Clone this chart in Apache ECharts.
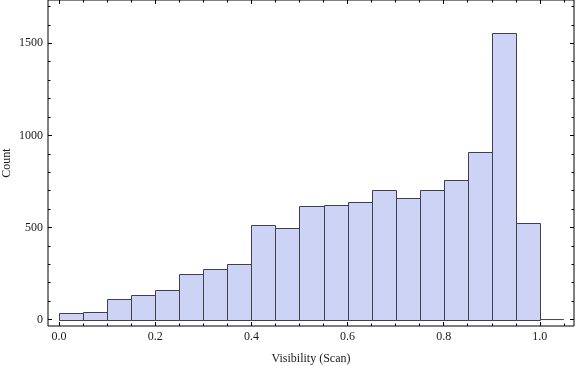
<!DOCTYPE html>
<html>
<head>
<meta charset="utf-8">
<script src="https://cdn.jsdelivr.net/npm/echarts@6/dist/echarts.min.js"></script>
<style>
  html, body { margin: 0; padding: 0; background: #fff; }
  #chart { width: 576px; height: 366px; }
</style>
</head>
<body>
<div id="chart"></div>
<script>
// bin edges of the histogram (width 0.05)
var binStart = [0, 0.05, 0.1, 0.15, 0.2, 0.25, 0.3, 0.35, 0.4, 0.45, 0.5, 0.55, 0.6, 0.65, 0.7, 0.75, 0.8, 0.85, 0.9, 0.95];
var binEnd = [0.05, 0.1, 0.15, 0.2, 0.25, 0.3, 0.35, 0.4, 0.45, 0.5, 0.55, 0.6, 0.65, 0.7, 0.75, 0.8, 0.85, 0.9, 0.95, 1.0];
// counts
var counts = [33, 43, 114, 136, 163, 250, 272, 299, 516, 495, 614, 620, 637, 701, 658, 701, 756, 908, 1554, 522];

// baseline runs a bit past the last bar
var baseline = [0, 1.05];

// tick marks
var xTicks = [0, 0.2, 0.4, 0.6, 0.8, 1.0];
var xMinorTicks = [0.05, 0.1, 0.15, 0.25, 0.3, 0.35, 0.45, 0.5, 0.55, 0.65, 0.7, 0.75, 0.85, 0.9, 0.95, 1.05];
var yTicks = [0, 500, 1000, 1500];
var yMinorTicks = [100, 200, 300, 400, 600, 700, 800, 900, 1100, 1200, 1300, 1400, 1600, 1700];

var xMin = -0.023, xMax = 1.071;
var yMin = -35, yMax = 1735;

var font = "'Liberation Serif', 'DejaVu Serif', serif";
var txt = "#1a1a1a";

var bars = binStart.map(function (s, i) {
  return [s, binEnd[i], counts[i]];
});

function xAxisDef(pos, ticks, len, label) {
  return {
    type: "value",
    position: pos,
    min: xMin,
    max: xMax,
    axisLine: { show: false, onZero: false },
    splitLine: { show: false },
    axisTick: {
      show: true,
      inside: true,
      length: len,
      customValues: ticks,
      lineStyle: { color: "#000", width: 1 },
    },
    axisLabel: label
      ? {
          show: true,
          customValues: ticks,
          margin: 5,
          color: txt,
          fontFamily: font,
          fontSize: 12,
          formatter: function (v) {
            return v.toFixed(1);
          },
        }
      : { show: false },
  };
}

function yAxisDef(pos, ticks, len, label) {
  return {
    type: "value",
    position: pos,
    min: yMin,
    max: yMax,
    axisLine: { show: false, onZero: false },
    splitLine: { show: false },
    axisTick: {
      show: true,
      inside: true,
      length: len,
      customValues: ticks,
      lineStyle: { color: "#000", width: 1 },
    },
    axisLabel: label
      ? {
          show: true,
          customValues: ticks,
          margin: 5,
          color: txt,
          fontFamily: font,
          fontSize: 12,
          formatter: function (v) {
            return String(v); // no thousands separator
          },
        }
      : { show: false },
  };
}

var xMain = xAxisDef("bottom", xTicks, 4, true);
xMain.name = "Visibility (Scan)";
xMain.nameLocation = "middle";
xMain.nameGap = 27;
xMain.nameMoveOverlap = false;
xMain.nameTextStyle = { color: txt, fontFamily: font, fontSize: 12 };

var yMain = yAxisDef("left", yTicks, 4, true);
yMain.name = "Count";
yMain.nameLocation = "middle";
yMain.nameGap = 35;
yMain.nameRotate = 90;
yMain.nameMoveOverlap = false;
yMain.nameTextStyle = { color: txt, fontFamily: font, fontSize: 12 };

var myChart = echarts.init(document.getElementById("chart"));
var option = {
  animation: false,
  grid: {
    left: 48,
    right: 2,
    top: 0,
    bottom: 40,
    containLabel: false,
    outerBoundsMode: "none",
    show: true,
    borderColor: "#000",
    borderWidth: 1,
    backgroundColor: "transparent",
  },
  xAxis: [
    xMain,
    xAxisDef("bottom", xMinorTicks, 2.5, false),
    xAxisDef("top", xTicks, 4, false),
    xAxisDef("top", xMinorTicks, 2.5, false),
  ],
  yAxis: [
    yMain,
    yAxisDef("left", yMinorTicks, 2.5, false),
    yAxisDef("right", yTicks, 4, false),
    yAxisDef("right", yMinorTicks, 2.5, false),
  ],
  series: [
    {
      type: "line",
      xAxisIndex: 0,
      yAxisIndex: 0,
      data: baseline.map(function (x) {
        return [x, 0];
      }),
      symbol: "none",
      lineStyle: { color: "#444", width: 1 },
      z: 1,
    },
    {
      type: "custom",
      xAxisIndex: 0,
      yAxisIndex: 0,
      data: bars,
      z: 2,
      renderItem: function (params, api) {
        var p0 = api.coord([api.value(0), api.value(2)]);
        var p1 = api.coord([api.value(1), 0]);
        // snap to pixel grid so 1px edges stay crisp
        var x0 = Math.round(p0[0]) + 0.5;
        var x1 = Math.round(p1[0]) + 0.5;
        var y0 = Math.round(p0[1]) + 0.5;
        var y1 = Math.round(p1[1]) + 0.5;
        return {
          type: "rect",
          shape: { x: x0, y: y0, width: x1 - x0, height: y1 - y0 },
          style: { fill: "#ccd3f5", stroke: "#40404c", lineWidth: 1 },
        };
      },
    },
  ],
};
option && myChart.setOption(option);
</script>
</body>
</html>
